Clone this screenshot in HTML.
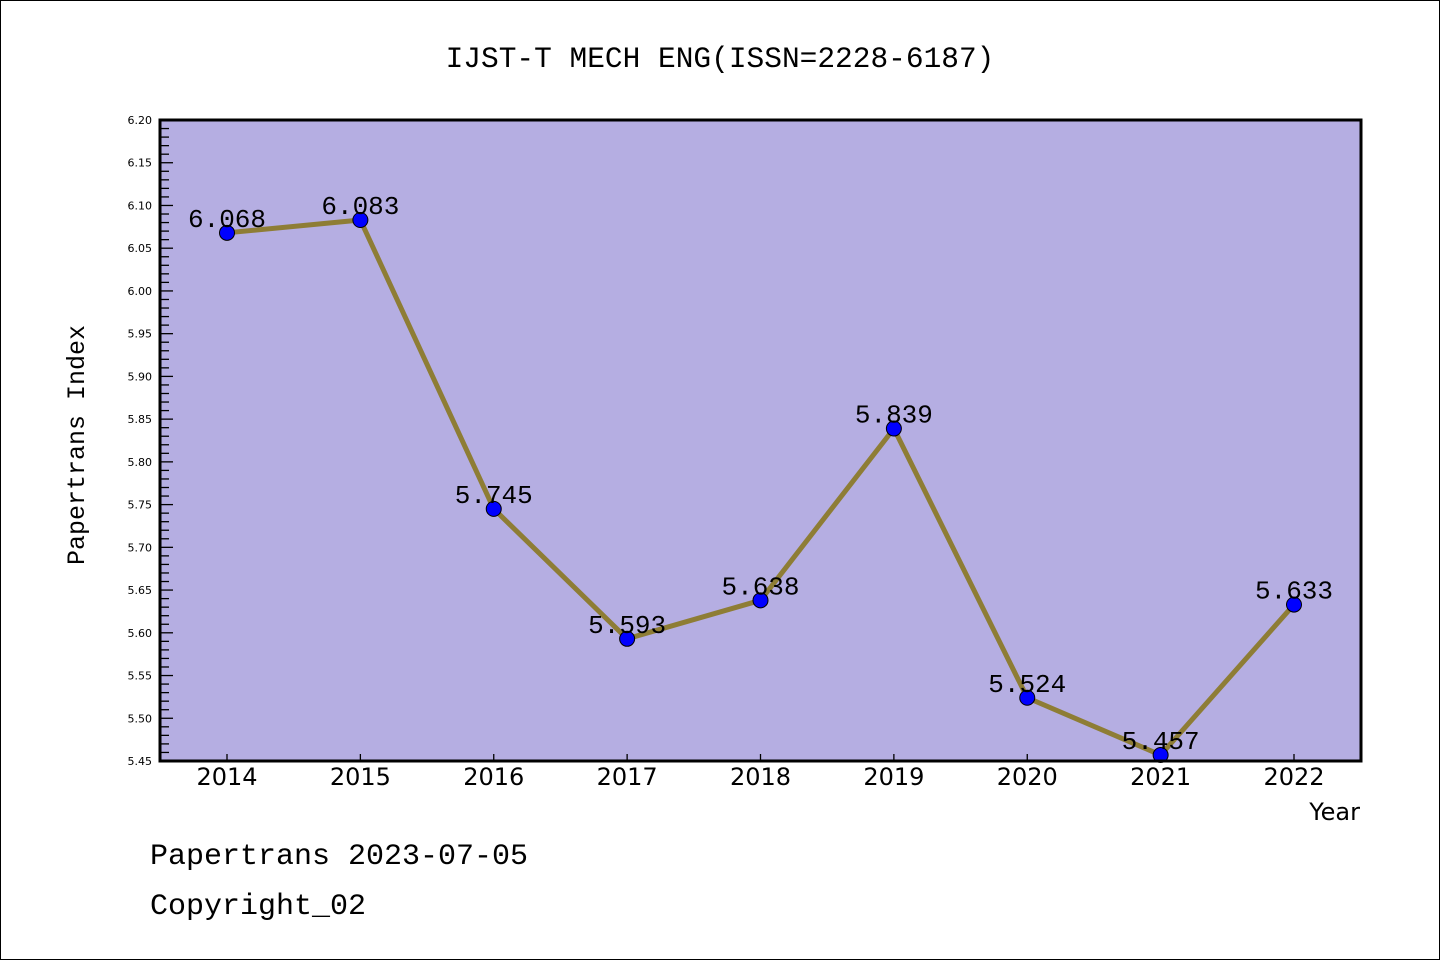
<!DOCTYPE html>
<html><head><meta charset="utf-8"><style>
html,body{margin:0;padding:0;background:#fff}
svg{display:block}
.mono{font-family:"Liberation Mono","WenQuanYi Zen Hei",monospace}
.sans{font-family:"DejaVu Sans","Liberation Sans",sans-serif}
</style></head><body>
<svg id="chart" width="1440" height="960" xmlns="http://www.w3.org/2000/svg">
<rect x="0.5" y="0.5" width="1439" height="959" fill="#fff" stroke="#000"/>
<text class="mono" x="720" y="67" font-size="29.5" text-anchor="middle">IJST-T MECH ENG(ISSN=2228-6187)</text>
<rect x="160" y="120" width="1201" height="641" fill="#b5aee2"/>
<g id="yticks"></g><g id="xticks"></g>
<g id="series"></g>
<rect x="160" y="120" width="1201" height="641" fill="none" stroke="#000" stroke-width="3"/>
<text class="mono" font-size="25" text-anchor="middle" transform="translate(84,445) rotate(-90)">Papertrans Index</text>
<text class="sans" x="1360" y="820" font-size="24" text-anchor="end">Year</text>
<text class="mono" x="150" y="864" font-size="30">Papertrans 2023-07-05</text>
<text class="mono" x="150" y="914" font-size="30">Copyright_02</text>
</svg>
<script>
const categories=["2014","2015","2016","2017","2018","2019","2020","2021","2022"];
const values=[6.068,6.083,5.745,5.593,5.638,5.839,5.524,5.457,5.633];
const valueLabels=["6.068","6.083","5.745","5.593","5.638","5.839","5.524","5.457","5.633"];
const yMin=5.45,yMax=6.20;
const NS="http://www.w3.org/2000/svg";
const L=160,R=1361,T=120,B=761;
const x0=227,step=(1294-227)/8;
function xs(i){return x0+i*step;}
function ys(v){return B-(v-yMin)/(yMax-yMin)*(B-T);}
function mk(tag,attrs,parent){const e=document.createElementNS(NS,tag);for(const k in attrs)e.setAttribute(k,attrs[k]);parent.appendChild(e);return e;}
const yt=document.getElementById('yticks');
for(let k=0;k<=75;k++){
  const v=yMin+k*0.01;const y=ys(v);const major=k%5===0;
  const ln=mk('line',{x1:L,x2:L+(major?13:9),y1:y,y2:y,stroke:'#000','stroke-width':1.3},yt);
  
  
  if(major){
    const t=mk('text',{x:152,y:y+4,'font-size':11,'text-anchor':'end','class':'sans'},yt);
    t.textContent=v.toFixed(2);
    
    
  }
}
const xt=document.getElementById('xticks');
categories.forEach((c,i)=>{
  const x=xs(i);
  const ln=mk('line',{x1:x,x2:x,y1:B,y2:B-7,stroke:'#000','stroke-width':1.3},xt);
  
  
  const t=mk('text',{x:x,y:785,'font-size':24,'text-anchor':'middle','class':'sans'},xt);
  t.textContent=c;
  
  
});
const s=document.getElementById('series');
const pl=mk('polyline',{points:values.map((v,i)=>xs(i)+','+ys(v)).join(' '),fill:'none',stroke:'#8e7d35','stroke-width':5,'stroke-linejoin':'round'},s);


values.forEach((v,i)=>{
  const c=mk('circle',{cx:xs(i),cy:ys(v),r:7.5,fill:'#0000ff',stroke:'#000','stroke-width':1},s);
  
  
  const t=mk('text',{x:xs(i),y:ys(v)-6,'font-size':26,'text-anchor':'middle','class':'mono'},s);
  t.textContent=valueLabels[i];
  
  
});
</script>
</body></html>
